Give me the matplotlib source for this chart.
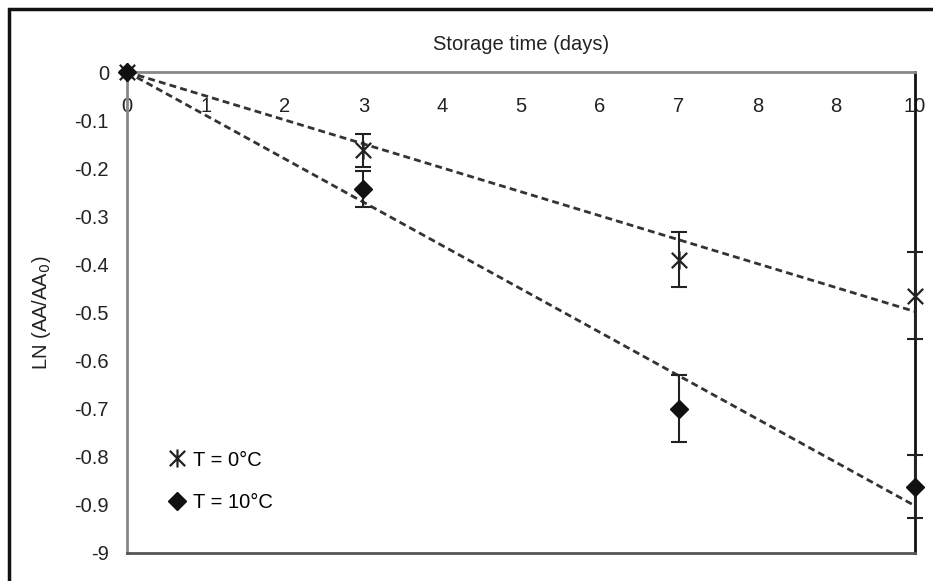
import matplotlib.pyplot as plt
from matplotlib.patches import Rectangle
from matplotlib.path import Path
import numpy as np

plt.rcParams['font.family'] = ['Liberation Sans', 'DejaVu Sans']

# storage days and ln(AA/AA0) values
days = [0, 3, 7, 10]
t0 = [0.0, -0.163, -0.39, -0.465]
t0_err = [0.0, 0.034, 0.057, 0.09]
t10 = [0.0, -0.243, -0.70, -0.862]
t10_err = [0.0, 0.038, 0.07, 0.065]

x_ticks = [0, 1, 2, 3, 4, 5, 6, 7, 8, 9, 10]
x_labels = ['0', '1', '2', '3', '4', '5', '6', '7', '8', '8', '10']
y_ticks = [0, -0.1, -0.2, -0.3, -0.4, -0.5, -0.6, -0.7, -0.8, -0.9, -1.0]
y_labels = ['0', '-0.1', '-0.2', '-0.3', '-0.4', '-0.5', '-0.6', '-0.7', '-0.8', '-0.9', '-9']

# asterisk: an X with a vertical bar through it
star = Path([(0, -1), (0, 1), (-0.85, -0.85), (0.85, 0.85), (-0.85, 0.85), (0.85, -0.85)],
            [Path.MOVETO, Path.LINETO, Path.MOVETO, Path.LINETO, Path.MOVETO, Path.LINETO])

fig = plt.figure(figsize=(9.33, 5.81), dpi=100)
ax = fig.add_axes([127 / 933, 1 - 553 / 581, (915 - 127) / 933, (553 - 72) / 581])

# outer frame, cut off at right and bottom like the source
fig.patches.append(Rectangle((9, -20), 1000, 581 - 9 + 20, transform=None,
                             fill=False, edgecolor='#111111', linewidth=2.5))

# trend lines through the origin
x_fit = np.array([0, 10])
for y in (t0, t10):
    xs = np.array(days, dtype=float)
    ys = np.array(y)
    k = (xs * ys).sum() / (xs * xs).sum()
    ax.plot(x_fit, k * x_fit, color='#333333', lw=2, dashes=(2.5, 1.5), zorder=2)

ax.errorbar(days, t0, yerr=t0_err, fmt='none', ecolor='#222222', elinewidth=1.5,
            capsize=5.5, capthick=1.5, zorder=3, clip_on=False)
ax.errorbar(days, t10, yerr=t10_err, fmt='none', ecolor='#222222', elinewidth=1.5,
            capsize=5.5, capthick=1.5, zorder=3, clip_on=False)
ax.plot(days, t0, linestyle='none', marker=star, markersize=13, color='#222222',
        markeredgewidth=1.6, label='T = 0°C', zorder=4, clip_on=False)
ax.plot(days, t10, linestyle='none', marker='D', markersize=9, color='#111111',
        label='T = 10°C', zorder=4, clip_on=False)

ax.set_xlim(0, 10)
ax.set_ylim(-1.0, 0)
ax.xaxis.tick_top()
ax.xaxis.set_label_position('top')
ax.set_xticks(x_ticks)
ax.set_xticklabels(x_labels)
ax.set_yticks(y_ticks)
ax.set_yticklabels(y_labels)
ax.tick_params(axis='x', length=0, pad=-32, labelsize=14.5, colors='#222222')
ax.tick_params(axis='y', length=0, pad=13, labelsize=14.5, colors='#222222')
ax.set_xlabel('Storage time (days)', fontsize=14.5, labelpad=16, color='#222222')
ax.set_ylabel('LN (AA/AA$_0$)', fontsize=14.5, labelpad=15, color='#222222')

ax.spines['left'].set_color('#888888')
ax.spines['top'].set_color('#888888')
ax.spines['bottom'].set_color('#555555')
ax.spines['right'].set_color('#111111')
for s in ax.spines.values():
    s.set_linewidth(2)

ax.legend(loc='lower left', bbox_to_anchor=(0.038, 0.065), frameon=False,
          fontsize=14.5, handlelength=1.0, handletextpad=0.3, labelspacing=1.15,
          borderpad=0)

fig.savefig('out.png', dpi=100)
